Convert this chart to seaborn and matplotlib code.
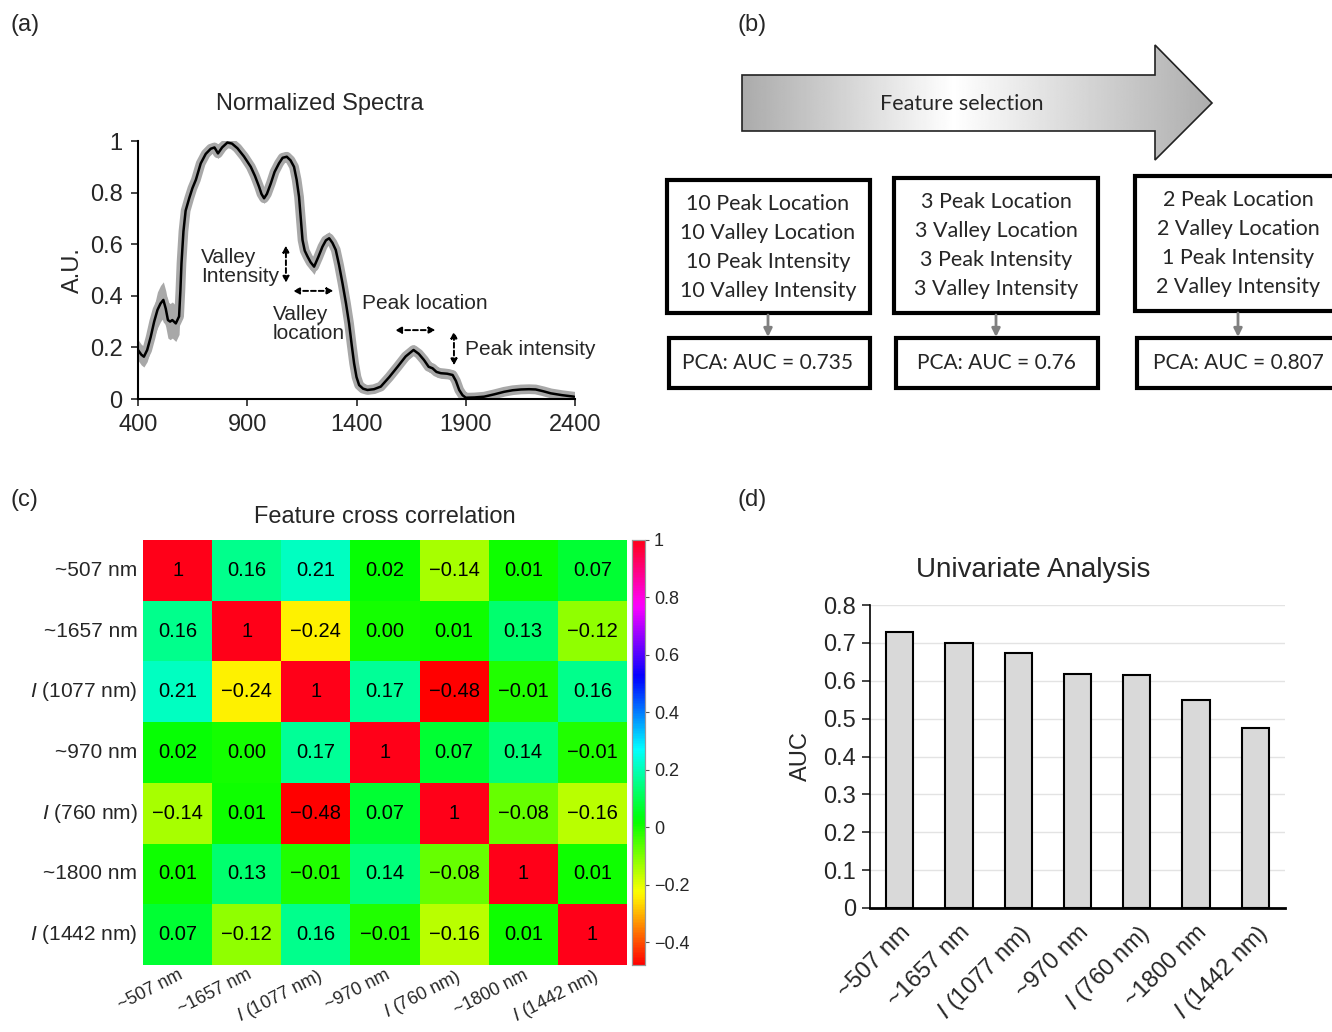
import numpy as np
import pandas as pd
import matplotlib
matplotlib.use("Agg")
import matplotlib.pyplot as plt
import seaborn as sns
from matplotlib.patches import Polygon, Rectangle
from matplotlib import font_manager

# ---------------- data ----------------
# (a) normalized spectrum
wavelength = [400, 415, 427, 442, 458, 474, 489, 503, 516, 527, 537, 547, 557, 573, 588,
              594, 599, 608, 618, 635, 649, 665, 687, 710, 733, 750, 766, 785, 809, 830,
              855, 885, 916, 935, 954, 965, 977, 990, 1008, 1025, 1045, 1062, 1081, 1098,
              1114, 1126, 1137, 1145, 1153, 1163, 1176, 1190, 1206, 1225, 1244, 1260,
              1275, 1290, 1305, 1320, 1336, 1352, 1366, 1378, 1389, 1400, 1412, 1430,
              1450, 1480, 1511, 1550, 1588, 1625, 1661, 1685, 1709, 1730, 1748, 1766,
              1786, 1815, 1840, 1855, 1870, 1885, 1900, 1940, 1984, 2030, 2076, 2115,
              2153, 2190, 2220, 2255, 2289, 2340, 2396]
mean_spec = [0.19, 0.172, 0.164, 0.19, 0.24, 0.30, 0.345, 0.37, 0.384, 0.35, 0.306, 0.30,
             0.306, 0.293, 0.32, 0.42, 0.526, 0.65, 0.73, 0.78, 0.817, 0.85, 0.913, 0.95,
             0.97, 0.975, 0.952, 0.975, 0.994, 0.99, 0.972, 0.94, 0.90, 0.865, 0.823,
             0.795, 0.778, 0.795, 0.836, 0.88, 0.913, 0.935, 0.939, 0.925, 0.90, 0.85,
             0.784, 0.70, 0.616, 0.575, 0.552, 0.53, 0.513, 0.55, 0.59, 0.615, 0.623,
             0.605, 0.578, 0.52, 0.448, 0.37, 0.293, 0.21, 0.138, 0.085, 0.054, 0.04,
             0.035, 0.038, 0.048, 0.085, 0.125, 0.165, 0.19, 0.175, 0.151, 0.125, 0.119,
             0.105, 0.10, 0.098, 0.093, 0.07, 0.035, 0.015, 0.005, 0.006, 0.009, 0.018,
             0.028, 0.034, 0.037, 0.038, 0.037, 0.03, 0.022, 0.015, 0.009]
std_spec = [0.04, 0.04, 0.04, 0.045, 0.05, 0.06, 0.07, 0.07, 0.07, 0.07, 0.07, 0.07,
            0.07, 0.07, 0.07, 0.05, 0.03, 0.025, 0.025, 0.02, 0.02, 0.02, 0.02, 0.02,
            0.02, 0.02, 0.02, 0.02, 0.02, 0.02, 0.02, 0.02, 0.02, 0.02, 0.02, 0.02,
            0.02, 0.02, 0.02, 0.02, 0.02, 0.02, 0.02, 0.02, 0.02, 0.02, 0.025, 0.028,
            0.03, 0.03, 0.03, 0.03, 0.03, 0.028, 0.025, 0.025, 0.025, 0.022, 0.02, 0.02,
            0.02, 0.02, 0.02, 0.02, 0.02, 0.018, 0.015, 0.015, 0.015, 0.015, 0.015,
            0.018, 0.02, 0.02, 0.02, 0.02, 0.02, 0.02, 0.02, 0.02, 0.02, 0.02, 0.02,
            0.018, 0.015, 0.012, 0.01, 0.01, 0.01, 0.01, 0.01, 0.01, 0.01, 0.01, 0.01,
            0.01, 0.01, 0.01, 0.01]
spec_xticks = [400, 900, 1400, 1900, 2400]
spec_yticks = [0, 0.2, 0.4, 0.6, 0.8, 1]

# (b) feature selection flow
stage_features = [
    ["10 Peak Location", "10 Valley Location", "10 Peak Intensity", "10 Valley Intensity"],
    ["3 Peak Location", "3 Valley Location", "3 Peak Intensity", "3 Valley Intensity"],
    ["2 Peak Location", "2 Valley Location", "1 Peak Intensity", "2 Valley Intensity"],
]
stage_auc = ["0.735", "0.76", "0.807"]

# (c) cross correlation
features = ["~507 nm", "~1657 nm", "$I$ (1077 nm)", "~970 nm", "$I$ (760 nm)",
            "~1800 nm", "$I$ (1442 nm)"]
corr = [
    [1, 0.16, 0.21, 0.02, -0.14, 0.01, 0.07],
    [0.16, 1, -0.24, 0.00, 0.01, 0.13, -0.12],
    [0.21, -0.24, 1, 0.17, -0.48, -0.01, 0.16],
    [0.02, 0.00, 0.17, 1, 0.07, 0.14, -0.01],
    [-0.14, 0.01, -0.48, 0.07, 1, -0.08, -0.16],
    [0.01, 0.13, -0.01, 0.14, -0.08, 1, 0.01],
    [0.07, -0.12, 0.16, -0.01, -0.16, 0.01, 1],
]
cbar_ticks = [-0.4, -0.2, 0, 0.2, 0.4, 0.6, 0.8, 1]

# (d) univariate AUC
auc_values = [0.728, 0.699, 0.673, 0.617, 0.614, 0.549, 0.474]
auc_yticks = [0, 0.1, 0.2, 0.3, 0.4, 0.5, 0.6, 0.7, 0.8]

# ---------------- style ----------------
sns.set_style("white")
plt.rcParams['font.family'] = ['Liberation Sans', 'DejaVu Sans']
plt.rcParams['mathtext.fontset'] = 'custom'
plt.rcParams['mathtext.it'] = 'Liberation Sans:italic'
plt.rcParams['mathtext.rm'] = 'Liberation Sans'
plt.rcParams['axes.unicode_minus'] = True

available = {f.name for f in font_manager.fontManager.ttflist}
narrow = ['Liberation Sans Narrow', 'Liberation Sans'] if 'Liberation Sans Narrow' in available else ['Liberation Sans']
boxfont = ['Lato', 'Open Sans', 'DejaVu Sans']

W, H = 1332, 1032
fig = plt.figure(figsize=(W / 100, H / 100), dpi=100)


def rect(l, t, r, b):
    return [l / W, 1 - b / H, (r - l) / W, (b - t) / H]


# ---------------- (a) ----------------
axa = fig.add_axes(rect(138, 141, 575, 399))
lo = np.array(mean_spec) - np.array(std_spec)
hi = np.array(mean_spec) + np.array(std_spec)
axa.fill_between(wavelength, lo, hi, color='#a8a8a8', lw=0)
axa.plot(wavelength, mean_spec, color='#a8a8a8', lw=7, solid_capstyle='round',
         solid_joinstyle='round')
sns.lineplot(x=wavelength, y=mean_spec, ax=axa, color='black', lw=1.8, sort=False)
axa.set_xlim(400, 2400)
axa.set_ylim(0, 1)
axa.set_xticks(spec_xticks)
axa.set_yticks(spec_yticks)
axa.set_yticklabels([("%g" % v) for v in spec_yticks])
axa.tick_params(axis='both', labelsize=17, length=5, width=1.2, direction='out',
                left=True, bottom=True, pad=6)
for s in ['top', 'right']:
    axa.spines[s].set_visible(False)
for s in ['left', 'bottom']:
    axa.spines[s].set_linewidth(1.5)
    axa.spines[s].set_color('black')
axa.set_ylabel("A.U.", fontsize=17, labelpad=4)
axa.set_title("Normalized Spectra", fontsize=17, pad=22, x=(320 - 138) / 437)

arrow_kw = dict(arrowstyle='<|-|>', ls=(0, (2.5, 1.5)), lw=1.4, color='black',
                mutation_scale=9, shrinkA=0, shrinkB=0)
axa.text(688, 0.51, "Valley\nIntensity", fontsize=15, ha='left', va='center', linespacing=1.0)
axa.annotate('', xy=(1077, 0.595), xytext=(1077, 0.45), arrowprops=arrow_kw)
axa.annotate('', xy=(1109, 0.419), xytext=(1295, 0.419), arrowprops=arrow_kw)
axa.text(1018, 0.29, "Valley\nlocation", fontsize=15, ha='left', va='center', linespacing=1.0)
axa.text(1425, 0.372, "Peak location", fontsize=15, ha='left', va='center')
axa.annotate('', xy=(1576, 0.267), xytext=(1762, 0.267), arrowprops=arrow_kw)
axa.annotate('', xy=(1846, 0.262), xytext=(1846, 0.13), arrowprops=arrow_kw)
axa.text(1897, 0.19, "Peak intensity", fontsize=15, ha='left', va='center')

# ---------------- (b) ----------------
axb = fig.add_axes([0, 0, 1, 1], zorder=-1)
axb.set_xlim(0, W)
axb.set_ylim(H, 0)
axb.axis('off')
arrow_pts = [(742, 75), (1155, 75), (1155, 45), (1212, 103), (1155, 160), (1155, 131), (742, 131)]
grad_x = np.linspace(0, 1, 400)
grad = np.interp(grad_x, [0, 0.45, 1], [0.67, 1.0, 0.68])
img = axb.imshow(np.tile(grad, (10, 1)), cmap='gray', vmin=0, vmax=1,
                 extent=(742, 1212, 160, 45), aspect='auto', interpolation='bilinear')
poly = Polygon(arrow_pts, closed=True, facecolor='none', edgecolor='#222222', lw=1.2)
axb.add_patch(poly)
img.set_clip_path(poly)
axb.text(962, 104, "Feature selection", fontsize=15.5, family=boxfont, ha='center', va='center')

box_x = [(667, 870), (894, 1098), (1135, 1345)]
box_cx = [768, 996, 1238]
box_top = [180, 178, 176]
box_bot = [313, 313, 311]
for i, (x0, x1) in enumerate(box_x):
    axb.add_patch(Rectangle((x0, box_top[i]), x1 - x0, box_bot[i] - box_top[i],
                            facecolor='white', edgecolor='black', lw=3))
    cx = box_cx[i]
    top = box_top[i] + 24
    for k, line in enumerate(stage_features[i]):
        axb.text(cx, top + k * 29, line, fontsize=15.5, family=boxfont, ha='center', va='center')
    axb.add_patch(Rectangle((x0 + 2, 338), x1 - x0 - 2, 50,
                            facecolor='white', edgecolor='black', lw=3))
    axb.text(cx, 363, "PCA: AUC = " + stage_auc[i], fontsize=15, family=boxfont,
             ha='center', va='center')
    axb.annotate('', xy=(cx, 337), xytext=(cx, box_bot[i] + 2),
                 arrowprops=dict(arrowstyle='-|>', color='#808080', lw=2, mutation_scale=12,
                                 shrinkA=0, shrinkB=0))

# panel labels
for lbl, (px, py) in zip(["(a)", "(b)", "(c)", "(d)"], [(10, 25), (737, 25), (10, 500), (737, 500)]):
    fig.text(px / W, 1 - py / H, lbl, fontsize=17, ha='left', va='center')

# ---------------- (c) ----------------
axc = fig.add_axes(rect(143, 540, 627, 965))
cax = fig.add_axes(rect(632, 540, 645, 965))
corr_df = pd.DataFrame(corr, index=features, columns=features)
annot = [["1" if v == 1 else ("%.2f" % v).replace('-', '\u2212') for v in row] for row in corr]
sns.heatmap(corr_df, ax=axc, cbar_ax=cax, cmap='hsv', vmin=-0.48, vmax=1,
            annot=np.array(annot), fmt='', square=False,
            annot_kws={'fontsize': 14.5, 'color': 'black', 'family': narrow},
            cbar_kws={'ticks': cbar_ticks})
axc.set_title("Feature cross correlation", fontsize=17, pad=12)
axc.tick_params(axis='y', length=0, pad=4)
axc.tick_params(axis='x', length=0, pad=1)
axc.set_yticklabels(features, rotation=0, fontsize=15, family=narrow)
axc.set_xticklabels(features, rotation=27, ha='right', rotation_mode='anchor',
                    fontsize=13, family=narrow)
axc.set_xlabel('')
axc.set_ylabel('')
cax.tick_params(labelsize=13, length=3, width=0.8, color='#555555')
cax.set_yticklabels([("%g" % t).replace('-', '\u2212') for t in cbar_ticks], family=narrow)
for s in cax.spines.values():
    s.set_visible(True)
    s.set_color('#999999')
    s.set_linewidth(0.8)

# ---------------- (d) ----------------
axd = fig.add_axes(rect(870, 605, 1285, 908))
auc_df = pd.DataFrame({'feature': features, 'AUC': auc_values})
sns.barplot(data=auc_df, x='feature', y='AUC', ax=axd, color='#d9d9d9', saturation=1,
            edgecolor='black', linewidth=1.5, width=0.46)
axd.set_ylim(0, 0.8)
axd.set_yticks(auc_yticks)
axd.set_yticklabels(["%g" % v for v in auc_yticks])
axd.yaxis.grid(True, color='#e3e3e3', lw=1)
axd.set_axisbelow(True)
for s in ['top', 'right']:
    axd.spines[s].set_visible(False)
axd.spines['left'].set_color('black')
axd.spines['left'].set_linewidth(1.2)
axd.spines['bottom'].set_color('black')
axd.spines['bottom'].set_linewidth(2)
axd.tick_params(axis='y', labelsize=17, left=True, length=6, width=1.2, pad=4)
axd.tick_params(axis='x', labelsize=17, bottom=False, pad=6)
axd.set_xticks(range(len(features)))
axd.set_xticklabels(features, rotation=45, ha='right', rotation_mode='anchor')
axd.set_xlabel('')
axd.set_ylabel('AUC', fontsize=17, labelpad=8)
axd.set_title("Univariate Analysis", fontsize=20, pad=20, x=(1033 - 870) / 415)

fig.savefig("out.png", dpi=100)
